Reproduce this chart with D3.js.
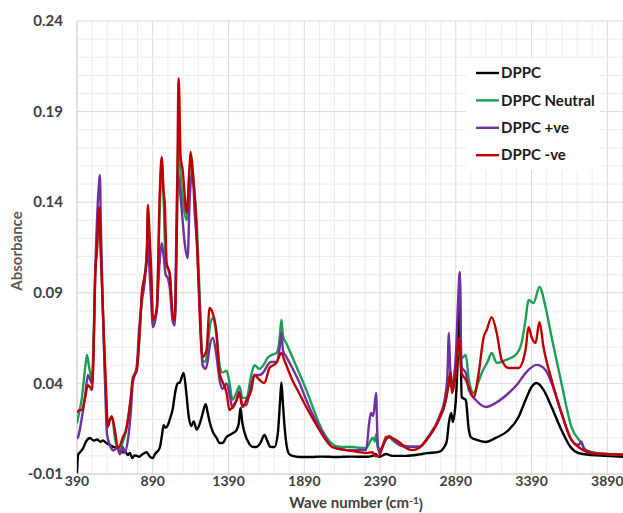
<!DOCTYPE html>
<html>
<head>
<meta charset="utf-8">
<script src="https://cdn.jsdelivr.net/npm/d3@7"></script>
<style>
  body { margin: 0; background: #fff; }
  text { font-family: Lato, "Open Sans", sans-serif; }
</style>
</head>
<body>
<div id="chart"></div>
<script>
// wave number (cm-1), absorbance
const dppc = [[390,-0.0095],[393,-0.004],[397,0.0005],[410,0.002],[429,0.004],[450,0.008],[476,0.0099],[500,0.0085],[522,0.009],[545,0.0078],[561,0.0085],[585,0.007],[607,0.006],[630,0.005],[653,0.0045],[675,0.0025],[693,0.002],[710,0.0022],[725,0.0005],[739,0.0016],[755,-0.0012],[770,0.0003],[785,0.0],[800,-0.0005],[820,0.0008],[850,0.002],[870,-0.0004],[890,-0.0012],[905,0.001],[936,0.0044],[950,0.011],[962,0.017],[975,0.0155],[990,0.017],[1002,0.02],[1022,0.026],[1040,0.036],[1054,0.040],[1068,0.0405],[1094,0.0458],[1110,0.036],[1127,0.022],[1145,0.0165],[1160,0.019],[1180,0.0145],[1199,0.0175],[1215,0.022],[1239,0.0285],[1252,0.024],[1265,0.019],[1285,0.0135],[1311,0.0099],[1331,0.0071],[1351,0.0071],[1377,0.0104],[1397,0.0115],[1420,0.0126],[1443,0.0143],[1458,0.018],[1469,0.0265],[1480,0.019],[1495,0.013],[1528,0.0065],[1548,0.005],[1574,0.0049],[1600,0.007],[1627,0.0115],[1645,0.0085],[1665,0.005],[1693,0.0049],[1715,0.012],[1730,0.03],[1739,0.0405],[1748,0.03],[1758,0.018],[1772,0.0065],[1790,0.001],[1811,0.0],[1860,-0.0006],[1943,-0.0006],[2000,-0.0004],[2100,-0.0006],[2200,-0.0004],[2298,-0.0005],[2340,0.0],[2360,0.001],[2383,-0.0005],[2430,0.001],[2470,0.0],[2561,0.0],[2650,0.0008],[2700,0.0015],[2778,0.0022],[2810,0.0044],[2830,0.008],[2844,0.0181],[2860,0.0237],[2870,0.0187],[2890,0.0308],[2905,0.06],[2916,0.1015],[2922,0.06],[2929,0.0325],[2956,0.0308],[2975,0.015],[2989,0.0104],[3028,0.0088],[3087,0.0077],[3153,0.0099],[3239,0.0143],[3304,0.0215],[3350,0.0308],[3390,0.038],[3423,0.0402],[3469,0.0364],[3522,0.027],[3587,0.0143],[3647,0.0049],[3699,0.0016],[3785,0.0005],[3880,0.0],[4000,-0.0006]];

const dppcNeutral = [[390,0.018],[397,0.021],[423,0.0325],[443,0.048],[456,0.0557],[470,0.049],[489,0.042],[500,0.065],[510,0.1],[522,0.115],[535,0.137],[548,0.112],[561,0.08],[575,0.045],[594,0.018],[620,0.022],[640,0.01],[660,0.0035],[675,0.004],[693,0.008],[712,0.013],[726,0.02],[745,0.032],[758,0.043],[785,0.048],[805,0.07],[818,0.088],[838,0.1],[851,0.115],[857,0.135],[870,0.11],[883,0.088],[890,0.074],[916,0.08],[936,0.135],[949,0.162],[962,0.14],[975,0.108],[990,0.103],[1002,0.1],[1022,0.078],[1035,0.076],[1048,0.12],[1061,0.176],[1074,0.155],[1090,0.14],[1114,0.13],[1133,0.158],[1145,0.165],[1160,0.15],[1179,0.13],[1199,0.09],[1219,0.0523],[1239,0.052],[1252,0.06],[1270,0.073],[1285,0.076],[1311,0.066],[1331,0.05],[1351,0.046],[1377,0.047],[1397,0.04],[1416,0.031],[1443,0.035],[1462,0.0385],[1482,0.032],[1508,0.032],[1541,0.045],[1561,0.05],[1594,0.048],[1627,0.051],[1647,0.054],[1670,0.0555],[1706,0.0568],[1725,0.063],[1739,0.075],[1750,0.066],[1772,0.062],[1811,0.0546],[1860,0.045],[1903,0.0364],[1950,0.026],[1989,0.0176],[2030,0.011],[2074,0.0066],[2120,0.005],[2166,0.0049],[2206,0.0049],[2252,0.0045],[2298,0.0044],[2325,0.008],[2340,0.01],[2355,0.008],[2364,0.012],[2375,0.004],[2395,0.004],[2430,0.009],[2449,0.0104],[2480,0.008],[2530,0.006],[2601,0.005],[2647,0.005],[2712,0.011],[2778,0.02],[2824,0.031],[2846,0.044],[2856,0.038],[2870,0.04],[2890,0.05],[2910,0.058],[2930,0.054],[2956,0.0557],[2976,0.042],[3008,0.0347],[3040,0.041],[3061,0.0457],[3100,0.052],[3127,0.0568],[3160,0.0513],[3219,0.0529],[3285,0.0557],[3324,0.0623],[3350,0.075],[3370,0.086],[3403,0.0844],[3442,0.0932],[3482,0.0822],[3522,0.0656],[3587,0.0402],[3653,0.016],[3719,0.0071],[3750,0.003],[3850,0.0012],[4000,0.0006]];

const dppcPos = [[390,0.0095],[397,0.0104],[423,0.0215],[443,0.0325],[462,0.0446],[476,0.042],[489,0.04],[500,0.06],[510,0.1],[522,0.13],[535,0.15],[541,0.155],[548,0.125],[561,0.08],[575,0.04],[588,0.012],[607,0.006],[630,0.003],[653,0.0044],[675,0.001],[693,0.0049],[705,0.002],[726,0.0088],[745,0.024],[758,0.04],[785,0.05],[800,0.07],[818,0.085],[838,0.097],[851,0.112],[857,0.12],[870,0.1],[883,0.08],[890,0.071],[916,0.08],[936,0.108],[949,0.1175],[962,0.11],[975,0.1],[990,0.098],[1002,0.093],[1022,0.074],[1035,0.072],[1045,0.12],[1054,0.1567],[1068,0.148],[1087,0.13],[1100,0.118],[1120,0.1092],[1133,0.14],[1153,0.1578],[1166,0.135],[1179,0.12],[1199,0.085],[1219,0.05],[1239,0.048],[1252,0.052],[1265,0.06],[1285,0.0651],[1311,0.055],[1331,0.0419],[1351,0.037],[1377,0.04],[1397,0.034],[1416,0.0264],[1443,0.0308],[1462,0.0355],[1482,0.028],[1508,0.0281],[1541,0.04],[1561,0.0446],[1594,0.0446],[1627,0.047],[1647,0.05],[1670,0.0518],[1706,0.0518],[1725,0.058],[1739,0.0678],[1750,0.058],[1772,0.0546],[1811,0.0485],[1860,0.04],[1903,0.0308],[1950,0.022],[1989,0.0159],[2030,0.01],[2074,0.0049],[2166,0.0032],[2252,0.0032],[2298,0.0032],[2318,0.018],[2330,0.0237],[2345,0.022],[2364,0.0347],[2372,0.012],[2383,0.0016],[2410,0.006],[2449,0.011],[2500,0.007],[2561,0.005],[2647,0.005],[2712,0.011],[2778,0.021],[2820,0.033],[2835,0.045],[2844,0.0678],[2852,0.05],[2864,0.038],[2890,0.055],[2905,0.085],[2916,0.1009],[2922,0.07],[2929,0.049],[2956,0.0457],[2976,0.0364],[3022,0.0308],[3087,0.027],[3153,0.0292],[3239,0.0347],[3300,0.04],[3350,0.0457],[3423,0.0502],[3482,0.0474],[3522,0.0402],[3587,0.0237],[3653,0.0088],[3700,0.006],[3719,0.0078],[3735,0.004],[3785,0.002],[3880,0.001],[4000,0.0006]];

const dppcNeg = [[390,0.024],[410,0.0253],[423,0.0253],[443,0.032],[462,0.039],[476,0.038],[489,0.0364],[500,0.06],[510,0.1],[522,0.1136],[535,0.1374],[548,0.11],[561,0.08],[580,0.04],[594,0.016],[608,0.02],[620,0.0215],[640,0.0143],[660,0.0044],[675,0.006],[693,0.0104],[712,0.014],[726,0.0198],[745,0.032],[758,0.0419],[785,0.0474],[805,0.07],[818,0.09],[838,0.1],[851,0.108],[857,0.1385],[870,0.12],[883,0.095],[890,0.075],[916,0.0805],[936,0.145],[949,0.165],[962,0.145],[969,0.14],[982,0.106],[1002,0.1009],[1022,0.0766],[1035,0.075],[1048,0.12],[1061,0.2085],[1074,0.165],[1087,0.158],[1114,0.134],[1133,0.16],[1140,0.1677],[1153,0.156],[1170,0.14],[1186,0.11],[1199,0.08],[1212,0.058],[1219,0.0546],[1245,0.0584],[1265,0.0816],[1285,0.0789],[1311,0.0678],[1331,0.0457],[1351,0.0408],[1377,0.0347],[1397,0.0253],[1416,0.027],[1443,0.0308],[1462,0.0347],[1482,0.027],[1508,0.0308],[1541,0.0364],[1561,0.0446],[1594,0.042],[1627,0.0402],[1660,0.0485],[1706,0.0513],[1739,0.0568],[1758,0.0529],[1811,0.0419],[1860,0.034],[1903,0.0270],[1950,0.02],[1989,0.0143],[2030,0.009],[2074,0.0049],[2166,0.0032],[2252,0.0021],[2298,0.0016],[2340,0.002],[2360,-0.0002],[2383,0.0],[2410,0.006],[2430,0.0104],[2469,0.0099],[2515,0.0077],[2561,0.0044],[2601,0.0032],[2647,0.0044],[2712,0.0104],[2778,0.0198],[2824,0.0308],[2840,0.038],[2857,0.0463],[2864,0.0347],[2890,0.0457],[2910,0.065],[2929,0.0457],[2956,0.042],[2976,0.038],[3008,0.0325],[3041,0.0457],[3074,0.0656],[3094,0.0695],[3127,0.0766],[3160,0.0678],[3193,0.0529],[3239,0.0485],[3304,0.0485],[3350,0.0584],[3370,0.0711],[3390,0.0656],[3416,0.0623],[3442,0.0739],[3469,0.06],[3522,0.042],[3587,0.0237],[3653,0.0088],[3699,0.0049],[3785,0.0016],[3880,0.001],[4000,0.0006]];

const seriesNames = ["DPPC", "DPPC Neutral", "DPPC +ve", "DPPC -ve"];
const seriesColors = ["#000000", "#1a9f55", "#7030a0", "#c00000"];
const xTicks = [390, 890, 1390, 1890, 2390, 2890, 3390, 3890];
const yTicks = [-0.01, 0.04, 0.09, 0.14, 0.19, 0.24];

const W = 623, H = 513;
const plotLeft = 77, plotTop = 21, plotBottom = 474;

const x = d3.scaleLinear().domain([390, 4000]).range([plotLeft, 624]);
const y = d3.scaleLinear().domain([-0.01, 0.24]).range([plotBottom, plotTop]);

const svg = d3.select("#chart").append("svg")
  .attr("width", W).attr("height", H);

svg.append("rect").attr("width", W).attr("height", H).attr("fill", "#fff");

// gridlines, minor and major
const grid = svg.append("g");
grid.selectAll("line.v")
  .data(d3.range(490, 4000, 100))
  .enter().append("line")
  .attr("x1", d => x(d)).attr("x2", d => x(d))
  .attr("y1", plotTop).attr("y2", plotBottom)
  .attr("stroke", d => (d - 390) % 500 === 0 ? "#d9d9d9" : "#ececec")
  .attr("stroke-width", 1);

grid.selectAll("line.h")
  .data(d3.range(0, 25))
  .enter().append("line")
  .attr("x1", plotLeft).attr("x2", W)
  .attr("y1", d => y(d * 0.01)).attr("y2", d => y(d * 0.01))
  .attr("stroke", d => (d + 1) % 5 === 0 ? "#d9d9d9" : "#ececec")
  .attr("stroke-width", 1);

// axis lines
svg.append("line").attr("x1", plotLeft).attr("x2", plotLeft).attr("y1", plotTop).attr("y2", plotBottom)
  .attr("stroke", "#bfbfbf");
svg.append("line").attr("x1", plotLeft).attr("x2", W).attr("y1", plotBottom).attr("y2", plotBottom)
  .attr("stroke", "#bfbfbf");

// tick labels
svg.append("g").selectAll("text")
  .data(yTicks)
  .enter().append("text")
  .attr("x", 63).attr("y", d => y(d))
  .attr("dy", "0.35em")
  .attr("text-anchor", "end")
  .style("font-size", "15px").style("font-weight", "bold")
  .attr("fill", "#404040")
  .text(d => d.toFixed(2));

svg.append("g").selectAll("text")
  .data(xTicks)
  .enter().append("text")
  .attr("x", d => x(d)).attr("y", 481)
  .attr("dy", "0.35em")
  .attr("text-anchor", "middle")
  .style("font-size", "14px").style("font-weight", "bold")
  .attr("fill", "#404040")
  .text(d => d);

// axis titles
const xt = svg.append("text")
  .attr("x", 356).attr("y", 503).attr("dy", "0.35em")
  .attr("text-anchor", "middle")
  .style("font-size", "15px").style("font-weight", "bold")
  .attr("fill", "#404040");
xt.append("tspan").text("Wave number (cm");
xt.append("tspan").attr("dy", "-0.4em").style("font-size", "10px").text("-1");
xt.append("tspan").attr("dy", "0.4em").text(")");

svg.append("text")
  .attr("transform", "translate(17,251) rotate(-90)")
  .attr("dy", "0.35em")
  .attr("text-anchor", "middle")
  .style("font-size", "15px").style("font-weight", "bold")
  .attr("fill", "#595959")
  .text("Absorbance");

// spectra
svg.append("clipPath").attr("id", "plotclip")
  .append("rect").attr("x", plotLeft).attr("y", plotTop - 5)
  .attr("width", W - plotLeft).attr("height", plotBottom - plotTop + 5);

const line = d3.line()
  .x(d => x(d[0]))
  .y(d => y(d[1]))
  .curve(d3.curveMonotoneX);

const allSeries = [dppc, dppcNeutral, dppcPos, dppcNeg];

svg.append("g").attr("clip-path", "url(#plotclip)")
  .selectAll("path")
  .data(allSeries)
  .enter().append("path")
  .attr("d", line)
  .attr("fill", "none")
  .attr("stroke", (d, i) => seriesColors[i])
  .attr("stroke-width", 2.4)
  .attr("stroke-linejoin", "round");

// legend
const legend = svg.append("g");
legend.append("rect")
  .attr("x", 466).attr("y", 58).attr("width", 134).attr("height", 112)
  .attr("fill", "#fff");
const rows = legend.selectAll("g")
  .data(seriesNames)
  .enter().append("g")
  .attr("transform", (d, i) => "translate(0," + (73 + i * 27.4) + ")");
rows.append("line")
  .attr("x1", 476).attr("x2", 499)
  .attr("stroke", (d, i) => seriesColors[i])
  .attr("stroke-width", 2.4);
rows.append("text")
  .attr("x", 501).attr("dy", "0.35em")
  .style("font-size", "15px").style("font-weight", "bold")
  .attr("fill", "#1a1a1a")
  .text(d => d);
</script>
</body>
</html>
